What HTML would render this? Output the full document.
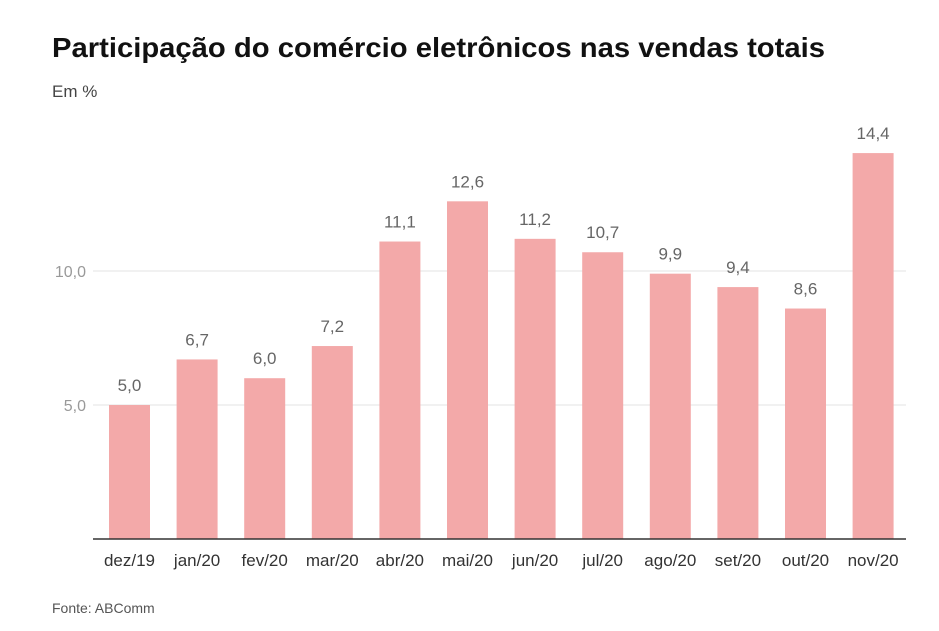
<!DOCTYPE html>
<html><head><meta charset="utf-8"><style>
body{margin:0;background:#fff;width:939px;height:626px;overflow:hidden;font-family:"Liberation Sans",sans-serif}
</style></head><body>
<svg width="939" height="626">
<text x="52" y="57" font-size="28" font-weight="bold" fill="#111" textLength="773" lengthAdjust="spacingAndGlyphs">Participação do comércio eletrônicos nas vendas totais</text>
<text x="52" y="97" font-size="17" fill="#444">Em %</text>
<g id="grid"></g>
<g id="bars"></g>
<line x1="93" x2="906" y1="539" y2="539" stroke="#333" stroke-width="1.5"/>
<text x="52" y="613" font-size="14" fill="#555">Fonte: ABComm</text>
</svg>
<script>
const categories=["dez/19","jan/20","fev/20","mar/20","abr/20","mai/20","jun/20","jul/20","ago/20","set/20","out/20","nov/20"];
const values=[5.0,6.7,6.0,7.2,11.1,12.6,11.2,10.7,9.9,9.4,8.6,14.4];
const yTicks=[5,10];
const ns="http://www.w3.org/2000/svg";
const y=v=>539-v*26.8;
const x=i=>109+i*67.6;
const bw=41;
const fmt=v=>v.toFixed(1).replace('.',',');
const g=document.getElementById('grid'),b=document.getElementById('bars');
function mk(tag,a,p,t){const e=document.createElementNS(ns,tag);for(const k in a)e.setAttribute(k,a[k]);if(t!==undefined)e.textContent=t;p.appendChild(e);return e;}
yTicks.forEach(t=>{
 const l=mk('line',{x1:93,x2:906,y1:y(t),y2:y(t),stroke:'#e3e3e3'},g);
 
 
 const tx=mk('text',{x:86,y:y(t)+6,'text-anchor':'end','font-size':16,fill:'#999'},g,fmt(t));
 
 
});
values.forEach((v,i)=>{
 const r=mk('rect',{x:x(i),y:y(v),width:bw,height:539-y(v),fill:'#f3a9a9'},b);
 
 
 const vl=mk('text',{x:x(i)+bw/2,y:y(v)-14,'text-anchor':'middle','font-size':17,fill:'#666'},b,fmt(v));
 
 
 const cl=mk('text',{x:x(i)+bw/2,y:566,'text-anchor':'middle','font-size':17,fill:'#333'},b,categories[i]);
 
 
});
</script>
</body></html>
